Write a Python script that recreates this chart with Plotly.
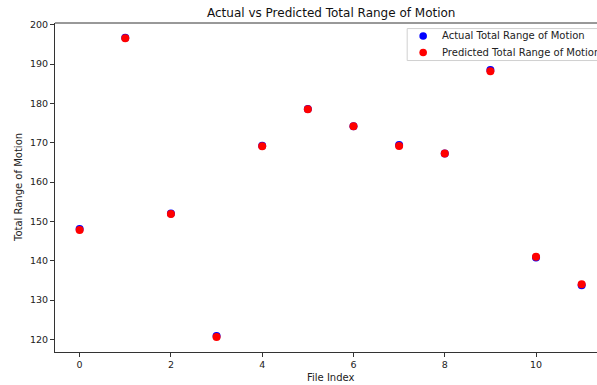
import plotly.graph_objects as go

file_index = list(range(12))
actual_rom = [148.1, 196.7, 152.0, 120.85, 169.25, 178.6, 174.2, 169.45, 167.3, 188.5, 140.8, 133.75]
predicted_rom = [147.8, 196.6, 151.9, 120.6, 169.1, 178.5, 174.2, 169.2, 167.3, 188.2, 141.0, 134.0]
series_names = ["Actual Total Range of Motion", "Predicted Total Range of Motion"]
series_colors = ["blue", "red"]

W, H = 597, 385
L, R, T, B = 54.5, 0, 22.7, 32.7
font = "DejaVu Sans"
pw = W - L - R
ph = H - T - B


def px(x):
    return (x - L) / pw


def py(y):
    return 1 - (y - T) / ph


fig = go.Figure()
for name, col, vals in zip(series_names, series_colors, [actual_rom, predicted_rom]):
    fig.add_trace(go.Scatter(x=file_index, y=vals, mode="markers",
                             marker=dict(color=col, size=8), name=name, showlegend=False))

# legend box (drawn manually to match spacing)
shapes = [
    dict(type="line", xref="paper", yref="paper", x0=0, x1=1, y0=1, y1=1,
         line=dict(color="#333", width=1)),
    dict(type="rect", xref="paper", yref="paper", x0=px(407), x1=px(620), y0=py(60.3), y1=py(28.3),
         line=dict(color="#d0d0d0", width=1), fillcolor="rgba(255,255,255,0.8)", layer="above"),
]
annotations = []
for i, (name, col) in enumerate(zip(series_names, series_colors)):
    yc = 35.7 + i * 16.6
    shapes.append(dict(type="circle", xref="paper", yref="paper", xsizemode="pixel", ysizemode="pixel",
                       xanchor=px(423), yanchor=py(yc), x0=-3.8, x1=3.8, y0=-3.8, y1=3.8,
                       fillcolor=col, line=dict(width=0), layer="above"))
    annotations.append(dict(text=name, xref="paper", yref="paper", x=px(440), y=py(yc),
                            xanchor="left", yanchor="middle", showarrow=False,
                            font=dict(size=10, family=font, color="#222")))

annotations += [
    dict(text="Actual vs Predicted Total Range of Motion", xref="paper", yref="paper",
         x=px(330.5), y=py(13), xanchor="center", yanchor="middle",
         showarrow=False, font=dict(size=12, family=font, color="#111")),
    dict(text="File Index", xref="paper", yref="paper",
         x=px(330.5), y=py(378), xanchor="center", yanchor="middle",
         showarrow=False, font=dict(size=10, family=font, color="#222")),
    dict(text="Total Range of Motion", xref="paper", yref="paper",
         x=px(18), y=0.5, xanchor="center", yanchor="middle", textangle=-90,
         showarrow=False, font=dict(size=10, family=font, color="#222")),
]

fig.update_layout(
    width=W, height=H,
    margin=dict(l=L, r=R, t=T, b=B, pad=0, autoexpand=False),
    plot_bgcolor="white", paper_bgcolor="white",
    font=dict(family=font, size=10, color="#222"),
    showlegend=False,
    xaxis=dict(range=[-0.54, -0.54 + pw / 45.68], showgrid=False, zeroline=False,
               showline=True, linecolor="#333", linewidth=1,
               ticks="outside", ticklen=4, tickcolor="#333",
               tickvals=[0, 2, 4, 6, 8, 10], tickfont=dict(size=9.5, family=font, color="#222")),
    yaxis=dict(range=[116.8, 200.46], showgrid=False, zeroline=False,
               showline=True, linecolor="#333", linewidth=1,
               ticks="outside", ticklen=4, tickcolor="#333",
               tickvals=[120, 130, 140, 150, 160, 170, 180, 190, 200],
               tickfont=dict(size=9.5, family=font, color="#222")),
    shapes=shapes,
    annotations=annotations,
)
fig.write_html("out.html")
